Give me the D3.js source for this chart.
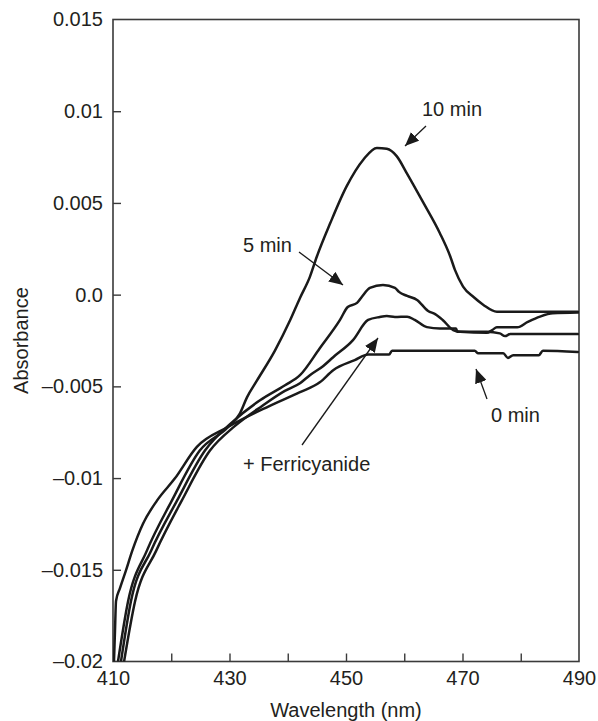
<!DOCTYPE html>
<html>
<head>
<meta charset="utf-8">
<script src="https://cdn.jsdelivr.net/npm/d3@7"></script>
<style>
  html, body { margin: 0; padding: 0; background: #fff; }
  svg { display: block; }
  text { font-family: "Liberation Sans", Arial, Helvetica, sans-serif; fill: #231f20; }
</style>
</head>
<body>
<svg id="chart" width="598" height="721"></svg>
<script>
// ---- data ----
const xTicks = [410, 420, 430, 440, 450, 460, 470, 480, 490];
const xTickLabels = ["410", "", "430", "", "450", "", "470", "", "490"];
const yTicks = [0.015, 0.01, 0.005, 0.0, -0.005, -0.01, -0.015, -0.02];
const yTickLabels = ["0.015", "0.01", "0.005", "0.0", "\u20130.005", "\u20130.01", "\u20130.015", "\u20130.02"];

const min0_wl  = [410.17, 410.34, 410.52, 411.2, 412.2, 413.3, 415.15, 417.55, 420.6, 424.4, 429.6, 436.4, 442.1, 445.5, 447.8, 451.5, 453.8, 457.4, 457.9, 472.1, 472.7, 477.0, 477.8, 478.7, 483.1, 483.8, 489.8];
const min0_abs = [-0.0200, -0.01835, -0.0167, -0.0160, -0.01506, -0.01397, -0.01249, -0.01123, -0.01003, -0.0083, -0.00724, -0.00614, -0.00532, -0.00478, -0.00412, -0.00357, -0.00326, -0.00326, -0.00306, -0.00306, -0.0032, -0.0032, -0.00345, -0.0033, -0.0033, -0.00306, -0.00313];

const ferri_wl  = [411.9, 413.8, 417.4, 421.8, 426.65, 430.9, 435.6, 439.5, 442.1, 443.8, 446.05, 447.8, 451.2, 453.8, 455.8, 457.0, 458.4, 460.5, 461.8, 463.9, 466.1, 468.9, 469.1, 474.2, 476.4, 477.3, 478.2, 489.8];
const ferri_abs = [-0.0200, -0.0167, -0.01397, -0.01123, -0.0085, -0.00717, -0.00607, -0.00525, -0.00483, -0.00439, -0.0039, -0.00341, -0.00248, -0.00138, -0.00122, -0.00117, -0.00122, -0.0012, -0.00138, -0.00177, -0.00184, -0.00184, -0.00202, -0.00202, -0.00211, -0.00226, -0.00215, -0.00215];

const min5_wl  = [411.37, 413.09, 416.52, 420.99, 425.79, 430.43, 435.24, 439.53, 442.1, 445.5, 448.97, 450.3, 451.9, 452.7, 454.1, 456.35, 458.4, 459.1, 460.5, 462.2, 464.1, 465.3, 466.6, 468.4, 469.6, 474.2, 475.1, 475.9, 479.4, 481.2, 483.3, 485.5, 489.8];
const min5_abs = [-0.0200, -0.0167, -0.01397, -0.01123, -0.0085, -0.00696, -0.00576, -0.00494, -0.00439, -0.00292, -0.00138, -0.00067, -0.00045, -0.00013, 0.00037, 0.00053, 0.00037, 0.00015, -0.00007, -0.00029, -0.00089, -0.00106, -0.00138, -0.00193, -0.00202, -0.00208, -0.00193, -0.00178, -0.00178, -0.00149, -0.0012, -0.00102, -0.00098];

const min10_wl  = [410.86, 412.6, 415.8, 420.1, 424.9, 429.7, 431.8, 433.0, 434.7, 437.8, 440.4, 442.1, 443.8, 445.0, 447.3, 450.1, 453.0, 455.3, 457.0, 458.7, 460.4, 463.3, 466.1, 467.9, 468.7, 470.1, 471.9, 473.6, 475.9, 489.8];
const min10_abs = [-0.0200, -0.0167, -0.01397, -0.01123, -0.0085, -0.00724, -0.00647, -0.0056, -0.00469, -0.00305, -0.0014, -0.00018, 0.00097, 0.00208, 0.0039, 0.0059, 0.00737, 0.0080, 0.00795, 0.00755, 0.00664, 0.0050, 0.00336, 0.00208, 0.00135, 0.00044, -0.00013, -0.00056, -0.00093, -0.00093];

const seriesNames = ["0 min", "+ Ferricyanide", "5 min", "10 min"];
const seriesWl = [min0_wl, ferri_wl, min5_wl, min10_wl];
const seriesAbs = [min0_abs, ferri_abs, min5_abs, min10_abs];

// annotation labels (text) and layout (pixels)
const annLabels = ["10 min", "5 min", "0 min", "+ Ferricyanide"];
const annLayout = [
  { tx: 422, ty: 116, x1: 426, y1: 126, x2: 405, y2: 146, head: true },
  { tx: 243, ty: 252, x1: 299, y1: 252, x2: 343, y2: 285, head: true },
  { tx: 491, ty: 422, x1: 487, y1: 399, x2: 476, y2: 369, head: true },
  { tx: 243, ty: 471, x1: 302, y1: 445, x2: 378, y2: 338, head: true }
];

// ---- layout ----
const L = 113, R = 579, T = 19.5, B = 661.5;
const svg = d3.select("#chart");
const x = d3.scaleLinear().domain([410, 490]).range([L, R]);
const y = d3.scaleLinear().domain([-0.02, 0.015]).range([B, T]);
const FS = 20;
const axisColor = "#3a3a3a";

// frame
svg.append("rect").attr("x", L).attr("y", T).attr("width", R - L).attr("height", B - T)
  .attr("fill", "none").attr("stroke", axisColor).attr("stroke-width", 1.6);

// y axis
const gy = svg.append("g").attr("transform", `translate(${L},0)`)
  .call(d3.axisLeft(y).tickValues(yTicks).tickSize(-8).tickPadding(10)
    .tickFormat((d, i) => yTickLabels[i]));
gy.select(".domain").remove();
gy.selectAll(".tick line").attr("stroke", axisColor).attr("stroke-width", 1.4);
gy.selectAll(".tick text").attr("font-size", FS).attr("font-family", '"Liberation Sans", Arial, sans-serif').attr("fill", "#231f20");
// first and last tick lines coincide with frame -> hide
gy.selectAll(".tick line").filter(d => d === 0.015 || d === -0.02).remove();

// x axis
const gx = svg.append("g").attr("transform", `translate(0,${B})`)
  .call(d3.axisBottom(x).tickValues(xTicks).tickSize(-8).tickPadding(9)
    .tickFormat((d, i) => xTickLabels[i]));
gx.select(".domain").remove();
gx.selectAll(".tick line").attr("stroke", axisColor).attr("stroke-width", 1.4);
gx.selectAll(".tick line").filter(d => d === 410 || d === 490).remove();
gx.selectAll(".tick text").attr("font-size", FS).attr("font-family", '"Liberation Sans", Arial, sans-serif').attr("fill", "#231f20");

// axis titles
svg.append("text").attr("x", (L + R) / 2).attr("y", 717).attr("text-anchor", "middle")
  .attr("font-size", FS).text("Wavelength (nm)");
svg.append("text").attr("transform", `translate(28,${(T + B) / 2}) rotate(-90)`)
  .attr("text-anchor", "middle").attr("font-size", FS).text("Absorbance");

// curves
const clip = svg.append("clipPath").attr("id", "plotclip").append("rect")
  .attr("x", L).attr("y", T).attr("width", R - L).attr("height", B - T);
const line = d3.line().x(d => x(d[0])).y(d => y(d[1])).curve(d3.curveMonotoneX);
const gc = svg.append("g").attr("clip-path", "url(#plotclip)");
seriesNames.forEach((name, i) => {
  const pts = seriesWl[i].map((w, j) => [w, seriesAbs[i][j]]);
  gc.append("path").datum(pts).attr("d", line)
    .attr("fill", "none").attr("stroke", "#1a1a1a").attr("stroke-width", 2.5)
    .attr("stroke-linejoin", "round").attr("stroke-linecap", "round");
});

// annotations
const defs = svg.append("defs");
defs.append("marker").attr("id", "ah").attr("viewBox", "0 0 14 12")
  .attr("refX", 14).attr("refY", 6).attr("markerWidth", 14).attr("markerHeight", 12)
  .attr("markerUnits", "userSpaceOnUse").attr("orient", "auto")
  .append("path").attr("d", "M0,0 L14,6 L0,12 Z").attr("fill", "#1a1a1a");

annLabels.forEach((lab, i) => {
  const a = annLayout[i];
  svg.append("line").attr("x1", a.x1).attr("y1", a.y1).attr("x2", a.x2).attr("y2", a.y2)
    .attr("stroke", "#1a1a1a").attr("stroke-width", 1.3).attr("marker-end", "url(#ah)");
  svg.append("text").attr("x", a.tx).attr("y", a.ty).attr("font-size", FS).text(lab);
});
</script>
</body>
</html>
